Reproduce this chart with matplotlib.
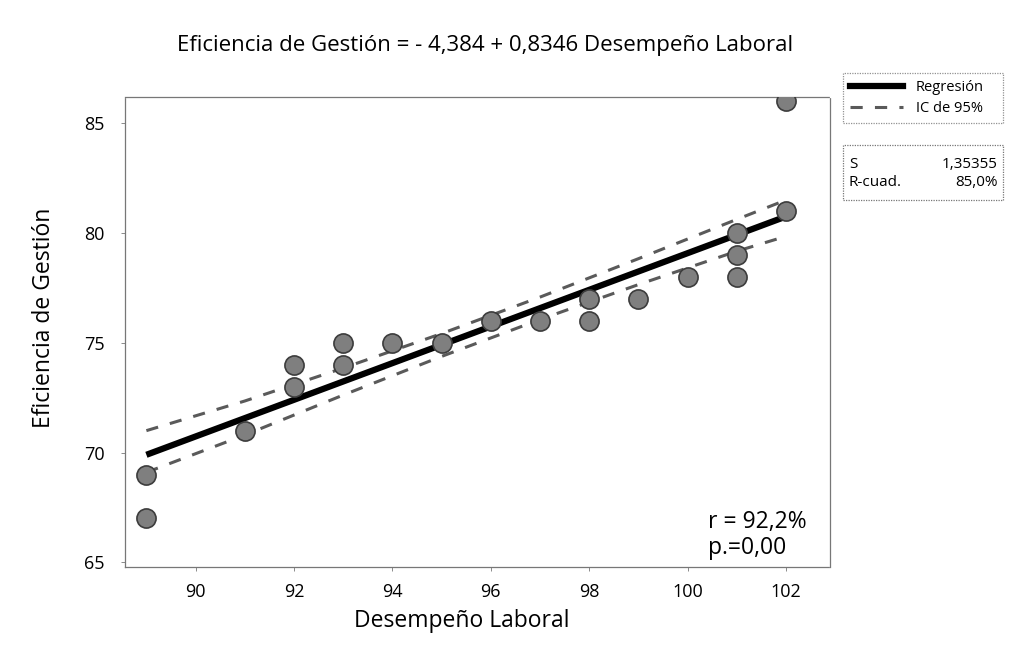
import numpy as np
import matplotlib
matplotlib.use('Agg')
import matplotlib.pyplot as plt
from matplotlib.lines import Line2D
from matplotlib.patches import Rectangle

plt.rcParams['font.family'] = ['Open Sans', 'DejaVu Sans']

# observed points (Desempeño Laboral, Eficiencia de Gestión)
desempeno = [89, 89, 91, 92, 92, 93, 93, 94, 95, 96, 97, 98, 98, 99, 100, 101, 101, 101, 102, 102]
eficiencia = [69, 67, 71, 74, 73, 75, 74, 75, 75, 76, 76, 77, 76, 77, 78, 80, 79, 78, 86, 81]

# fitted line and 95% confidence band
fit_x = [89, 102]
fit_y = [69.9, 80.75]
ic_x = [89, 91, 93, 95, 97, 99, 101, 102]
ic_sup = [71.0, 72.35, 73.85, 75.42, 77.08, 78.83, 80.62, 81.5]
ic_inf = [69.1, 70.80, 72.62, 74.38, 76.06, 77.65, 79.17, 79.85]

titulo = "Eficiencia de Gestión = - 4,384 + 0,8346 Desempeño Laboral"

fig = plt.figure(figsize=(10.1, 6.5), dpi=100)
ax = fig.add_axes([0.124, 0.128, 0.698, 0.723])

# confidence band (dashed) and regression line
ax.plot(ic_x, ic_sup, color='#5a5a5a', lw=2.2, ls=(0, (4, 4)), zorder=2)
ax.plot(ic_x, ic_inf, color='#5a5a5a', lw=2.2, ls=(0, (4, 4)), zorder=2)
ax.plot(fit_x, fit_y, color='black', lw=4.5, solid_capstyle='butt', zorder=3)

# data points
ax.scatter(desempeno, eficiencia, s=190, color='#7f7f7f', edgecolor='#3c3c3c',
           linewidth=1.2, zorder=4)

ax.set_xlim(88.57, 102.9)
ax.set_ylim(64.8, 86.2)
ax.set_xticks([90, 92, 94, 96, 98, 100, 102])
ax.set_yticks([65, 70, 75, 80, 85])
ax.tick_params(labelsize=13, length=3, width=0.6, color='#777777')
ax.tick_params(axis='x', pad=9)
ax.tick_params(axis='y', pad=12)

for sp in ax.spines.values():
    sp.set_color('#777777')
    sp.set_linewidth(0.9)
    sp.set_linestyle((0, (1, 1)))

ax.set_xlabel('Desempeño Laboral', fontsize=16.5)
ax.set_ylabel('Eficiencia de Gestión', fontsize=16.5)
ax.xaxis.set_label_coords(0.478, -0.09)
ax.yaxis.set_label_coords(-0.098, 0.53)
fig.text(0.48, 0.93, titulo, fontsize=16, ha='center', va='center')

# correlation annotation
ax.text(708 / 1010, 1 - 535 / 650, 'r = 92,2%\np.=0,00', transform=fig.transFigure,
        fontsize=16.5, ha='left', va='center', linespacing=1.15)

# legend box
handles = [Line2D([0], [0], color='black', lw=4.5),
           Line2D([0], [0], color='#5a5a5a', lw=2.2, ls=(0, (4, 4)))]
leg = fig.legend(handles, ['Regresión', 'IC de 95%'], loc='upper left',
                 bbox_to_anchor=(843 / 1010, 1 - 127 / 650, 160 / 1010, 54 / 650),
                 mode='expand', fontsize=10.5, frameon=True, borderaxespad=0,
                 fancybox=False, handlelength=3.6, borderpad=0.5,
                 labelspacing=0.4, handletextpad=0.9)
leg.get_frame().set_edgecolor('#777777')
leg.get_frame().set_linestyle((0, (1, 1)))
leg.get_frame().set_linewidth(0.9)

# statistics box
box = Rectangle((843 / 1010, 1 - 200 / 650), 160 / 1010, 55 / 650,
                transform=fig.transFigure, fill=False, edgecolor='#777777',
                lw=0.9, ls=(0, (1, 1)))
fig.add_artist(box)
fig.text(849 / 1010, 1 - 164 / 650, 'S', fontsize=11, va='center')
fig.text(998 / 1010, 1 - 164 / 650, '1,35355', fontsize=11, va='center', ha='right')
fig.text(849 / 1010, 1 - 183 / 650, 'R-cuad.', fontsize=11, va='center')
fig.text(998 / 1010, 1 - 183 / 650, '85,0%', fontsize=11, va='center', ha='right')

fig.savefig('out.png', dpi=100)
